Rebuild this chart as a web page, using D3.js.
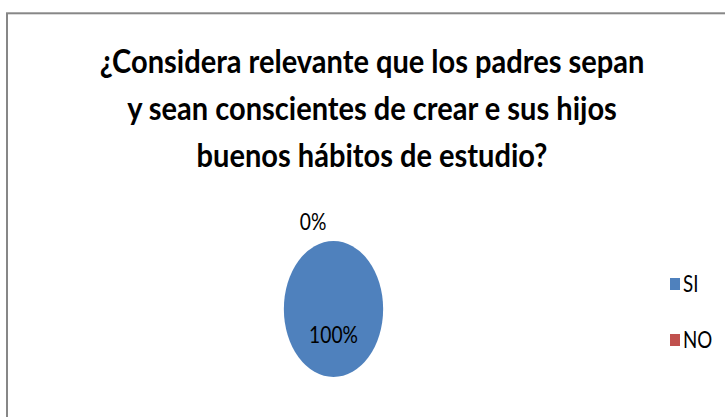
<!DOCTYPE html>
<html>
<head>
<meta charset="utf-8">
<script src="https://cdn.jsdelivr.net/npm/d3@7"></script>
<style>
  body { margin: 0; background: #fff; }
  text { font-family: Lato, "Open Sans", sans-serif; fill: #000; }
</style>
</head>
<body>
<div id="chart"></div>
<script>
// chart data
var titleLines = ["¿Considera relevante que los padres sepan",
                  "y sean conscientes de crear e sus hijos",
                  "buenos hábitos de estudio?"];
var categories = ["SI", "NO"];
var values = [100, 0];
var colors = ["#4F81BD", "#C0504D"];

var width = 725, height = 417;
var squish = 0.73;   // the picture is squeezed sideways, so the pie is an ellipse

var svg = d3.select("#chart")
  .append("svg")
  .attr("width", width)
  .attr("height", height);

// chart border (bottom and right edges fall outside the picture)
svg.append("rect")
  .attr("x", 7).attr("y", 13.3)
  .attr("width", 740).attr("height", 440)
  .attr("fill", "none")
  .attr("stroke", "#878787")
  .attr("stroke-width", 2);

// title
svg.selectAll(".title")
  .data(titleLines)
  .enter()
  .append("text")
  .attr("class", "title")
  .attr("transform", function(d, i) { return "translate(372," + (73 + i * 47) + ") scale(0.88,1)"; })
  .attr("text-anchor", "middle")
  .style("font-weight", "bold")
  .style("font-size", "33px")
  .text(function(d) { return d; });

// pie
var radius = 68;
var pie = d3.pie().sort(null).value(function(d) { return d; });
var arcs = pie(values);
var arc = d3.arc().innerRadius(0).outerRadius(radius);
var innerLabelArc = d3.arc().innerRadius(26).outerRadius(26);
var outerLabelArc = d3.arc().innerRadius(87).outerRadius(87);

var g = svg.append("g")
  .attr("transform", "translate(333.5,309)");

g.selectAll("path")
  .data(arcs)
  .enter()
  .append("path")
  .attr("transform", "scale(" + squish + ",1)")
  .attr("d", arc)
  .attr("fill", function(d, i) { return colors[i]; });

g.selectAll(".lbl")
  .data(arcs)
  .enter()
  .append("text")
  .attr("class", "lbl")
  .attr("transform", function(d) {
    var c = d.value > 0 ? innerLabelArc.centroid(d) : outerLabelArc.centroid(d);
    return "translate(" + (c[0] * squish) + "," + c[1] + ") scale(0.8,1)";
  })
  .attr("text-anchor", function(d) { return d.value > 0 ? "middle" : "end"; })
  .attr("dx", function(d) { return d.value > 0 ? 0 : -9; })
  .attr("dy", "0.35em")
  .style("font-size", "24px")
  .text(function(d) { return Math.round(d.value / d3.sum(values) * 100) + "%"; });

// legend
var legend = svg.selectAll(".legend")
  .data(categories)
  .enter()
  .append("g")
  .attr("class", "legend")
  .attr("transform", function(d, i) { return "translate(670," + (278 + i * 56) + ")"; });

legend.append("rect")
  .attr("width", 10).attr("height", 12)
  .attr("fill", function(d, i) { return colors[i]; });

legend.append("text")
  .attr("transform", "translate(13,14) scale(0.78,1)")
  .style("font-size", "24px")
  .text(function(d) { return d; });
</script>
</body>
</html>
